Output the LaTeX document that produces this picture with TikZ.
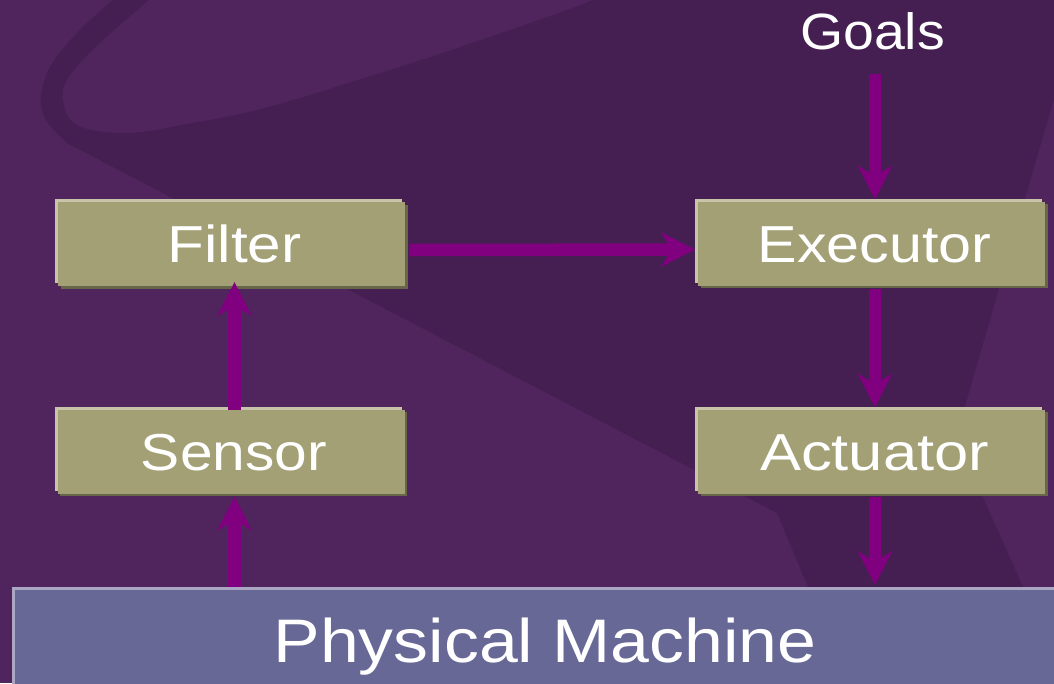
\documentclass[tikz,border=0pt]{standalone}
\usepackage{fontspec}
\setmainfont{Liberation Sans}
\usetikzlibrary{arrows.meta,shadows,calc}

\definecolor{bglight}{HTML}{50245C}
\definecolor{bgdark}{HTML}{451F52}
\definecolor{boxface}{HTML}{A3A075}
\definecolor{boxhi}{HTML}{C8C4AA}
\definecolor{boxlo}{HTML}{686648}
\definecolor{arrowpurple}{HTML}{800080}
\definecolor{pmface}{HTML}{676896}
\definecolor{pmhi}{HTML}{AAA6C3}

% stretch a label horizontally to a given width, keeping its height
\newcommand\fitw[2]{\resizebox{#1}{\height}{#2}}
% same, nudged a little to the right inside its block
\newcommand\fitwr[2]{\hspace*{6pt}\resizebox{#1}{\height}{#2}}

\begin{document}
\begin{tikzpicture}[x=1pt,y=-1pt,
  stage/.style={fill=boxface, text=white, minimum width=347pt, minimum height=84pt,
    inner sep=0pt, text height=37pt, text depth=0pt, font=\fontsize{52}{60}\selectfont,
    general shadow={fill=boxhi, draw=none, shadow xshift=-3pt, shadow yshift=3pt},
    general shadow={fill=boxlo, draw=none, shadow xshift=2.5pt, shadow yshift=-2.5pt}},
  machine/.style={fill=pmface, text=white, minimum width=1060pt, minimum height=100pt,
    inner sep=0pt, text height=44pt, text depth=0pt, font=\fontsize{61.5}{70}\selectfont,
    general shadow={fill=pmhi, draw=none, shadow xshift=-3pt, shadow yshift=3pt}},
  caption/.style={text=white, inner sep=0pt, text height=36.5pt, text depth=0pt,
    font=\fontsize{51}{60}\selectfont},
  link/.style={draw=arrowpurple, line width=12.5pt,
    -{Stealth[length=34pt, width=35pt, inset=11pt, line width=0pt, color=arrowpurple]}}
]
\useasboundingbox (0,0) rectangle (1054,683);

% background swoosh
\begin{scope}
  \clip (0,0) rectangle (1054,683);
  \fill[bglight] (0,0) rectangle (1054,683);
  \fill[bgdark] plot[smooth, tension=0.6] coordinates
      {(118,-5) (77,33) (50,67) (41,97) (46,120) (67,143)}
    -- (777,513) -- (808,587) -- (851,690) -- (1069,690)
    -- (956,437) -- (1084,-5) -- cycle;
  \fill[bglight] plot[smooth, tension=0.6] coordinates
      {(155,-5) (100,43) (69,77) (63,100) (77,125) (126,133) (192,123)
       (268,107) (383,72) (460,47) (575,7) (600,-5)}
    -- cycle;
\end{scope}

% blocks
\node[machine] (pm) at (545,640) {\fitw{543pt}{Physical Machine}};
\node[stage] (filter) at (231.5,244) {\fitwr{134pt}{Filter}};
\node[stage] (exec) at (871.5,243.5) {\fitwr{234pt}{Executor}};
\node[stage] (sensor) at (231,451.5) {\fitwr{186pt}{Sensor}};
\node[stage] (act) at (871.5,451.5) {\fitwr{229pt}{Actuator}};
\node[caption] (goals) at (872.5,31) {\fitw{145pt}{Goals}};

% signal flow
\draw[link] ($(goals.south)+(2.5,25)$) -- ($(exec.north)+(3.5,-2)$);
\draw[link] ($(filter.east)+(4,6)$) -- ($(exec.west)+(-3,6)$);
\draw[link] ($(exec.south)+(3.5,3)$) -- ($(act.north)+(3.5,-2)$);
\draw[link] ($(act.south)+(3.5,3)$) -- ($(act.south |- pm.north)+(3.5,-5)$);
\draw[link] ($(sensor.south |- pm.north)+(3.5,-3)$) -- ($(sensor.south)+(3.5,3)$);
\draw[link] ($(sensor.north)+(3.5,0.5)$) -- ($(filter.south)+(3,-4)$);
\end{tikzpicture}
\end{document}
